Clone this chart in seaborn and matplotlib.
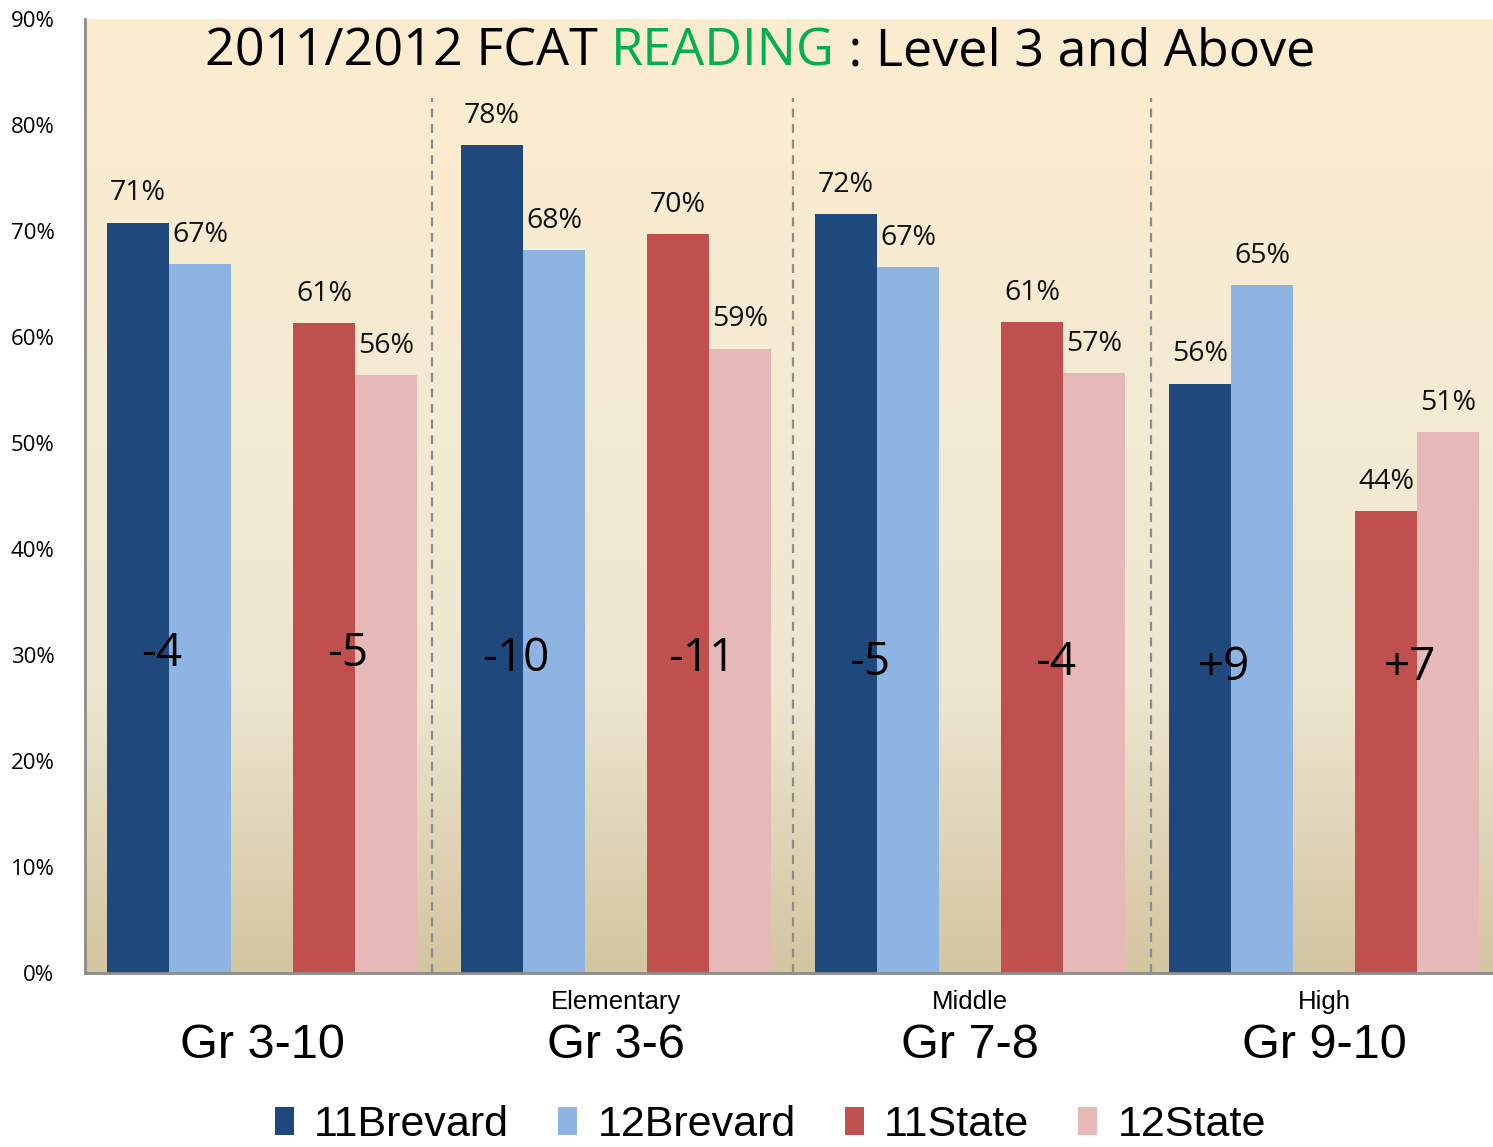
import matplotlib
matplotlib.use("Agg")
import matplotlib.pyplot as plt
import numpy as np
import pandas as pd
import seaborn as sns
from matplotlib.colors import LinearSegmentedColormap
from matplotlib.patches import Patch

# data
groups = ["Gr 3-10", "Gr 3-6", "Gr 7-8", "Gr 9-10"]
levels = ["", "Elementary", "Middle", "High"]
series = ["11Brevard", "12Brevard", "11State", "12State"]
brevard_11 = [70.8, 78.1, 71.6, 55.6]
brevard_12 = [66.9, 68.2, 66.6, 64.9]
state_11 = [61.3, 69.7, 61.4, 43.6]
state_12 = [56.4, 58.9, 56.6, 51.0]
changes = ["-4", "-5", "-10", "-11", "-5", "-4", "+9", "+7"]

colors = ["#1F497D", "#8EB4E3", "#C0504D", "#E6B9B8"]
SPACER = " "  # empty hue slot between the Brevard and State pairs

df = pd.DataFrame({
    "group": np.tile(groups, 4),
    "series": np.repeat(series, 4),
    "value": brevard_11 + brevard_12 + state_11 + state_12,
})

sns.set_theme(style="white")
plt.rcParams["font.family"] = ["Open Sans", "DejaVu Sans"]
plt.rcParams["text.color"] = "black"
plt.rcParams["ytick.labelcolor"] = "black"
narrow = ["Liberation Sans", "DejaVu Sans"]

fig = plt.figure(figsize=(14.93, 11.47), dpi=100)
ax = fig.add_axes([85 / 1493, 174 / 1147, 1416 / 1493, (973 - 19) / 1147])
ax.set_facecolor("none")

# background gradient, tan at the bottom to cream at the top
cmap = LinearSegmentedColormap.from_list(
    "bg", [(0.0, "#D3C5A0"), (0.3, "#EEE6D0"), (0.55, "#F3EAD3"), (1.0, "#FDEDCF")])
grad = np.linspace(0, 1, 256).reshape(-1, 1)
ax.imshow(grad, extent=[-0.5, 3.5, 0, 90], origin="lower", aspect="auto",
          cmap=cmap, zorder=0)

sns.barplot(data=df, x="group", y="value", hue="series",
            hue_order=series[:2] + [SPACER] + series[2:],
            palette=colors[:2] + ["white"] + colors[2:],
            width=0.875, saturation=1, legend=False, errorbar=None,
            linewidth=0, ax=ax, zorder=2)

ax.set_xlim(-0.5, 3.5)
ax.set_ylim(0, 90)
ax.set_yticks(np.arange(0, 91, 10))
ax.set_yticklabels([f"{v}%" for v in range(0, 91, 10)], fontsize=16)
ax.tick_params(axis="y", length=0, pad=22)
ax.set_xticks([-0.5, 0.5, 1.5, 2.5])
ax.set_xticklabels([])
ax.tick_params(axis="x", length=12, width=1.5, color="#8C8C8C", direction="out")
ax.set_xlabel("")
ax.set_ylabel("")
for side in ["top", "right"]:
    ax.spines[side].set_visible(False)
for side in ["left", "bottom"]:
    ax.spines[side].set_color("#8C8C8C")
    ax.spines[side].set_linewidth(2)

# value labels on top of each bar
for cont in ax.containers:
    ax.bar_label(cont, labels=[f"{b.get_height():.0f}%" for b in cont],
                 padding=11, fontsize=20.5, color="#111111")

# change labels straddling each pair of bars
bars = sorted([p for p in ax.patches if p.get_height() > 0], key=lambda p: p.get_x())
for k, txt in enumerate(changes):
    g = k // 2
    bar = bars[2 * k]
    xc = bar.get_x() + bar.get_width() - 0.02
    ax.text(xc, 30.1 - 0.45 * g, txt, ha="center", va="center",
            fontsize=33, color="black", zorder=5)

# dashed separators between grade bands
for xb in [0.48, 1.5, 2.51]:
    ax.plot([xb, xb], [0, 82.5], ls=(0, (4, 3)), color="#8C8C8C", lw=1.6, zorder=3)

# category labels below the axis
for g, (name, lvl) in enumerate(zip(groups, levels)):
    ax.text(g, -6.8, name, ha="center", va="center", fontsize=35,
            family=narrow, clip_on=False)
    if lvl:
        ax.text(g, -2.7, lvl, ha="center", va="center", fontsize=18.5,
                family=narrow, clip_on=False)

# title with the subject word in green
y_t = 1 - 66 / 1147
t1 = fig.text(205 / 1493, y_t, "2011/2012 FCAT ", fontsize=37.5, va="baseline")
t2 = ax.annotate("READING", xy=(1, 0), xycoords=t1, va="bottom",
                 fontsize=37.5, color="#00B050")
t3 = ax.annotate(" : Level 3 and Above", xy=(1, 0), xycoords=t2, va="bottom",
                 fontsize=37.5, color="black")

handles = [Patch(facecolor=c, edgecolor="none") for c in colors]
fig.legend(handles, series, loc="center", bbox_to_anchor=(0.516, 22 / 1147),
           ncol=4, frameon=False, handlelength=0.44, handleheight=0.65,
           handletextpad=0.47, columnspacing=1.14,
           prop={"family": narrow, "size": 31})

fig.savefig("out.png", dpi=100)
